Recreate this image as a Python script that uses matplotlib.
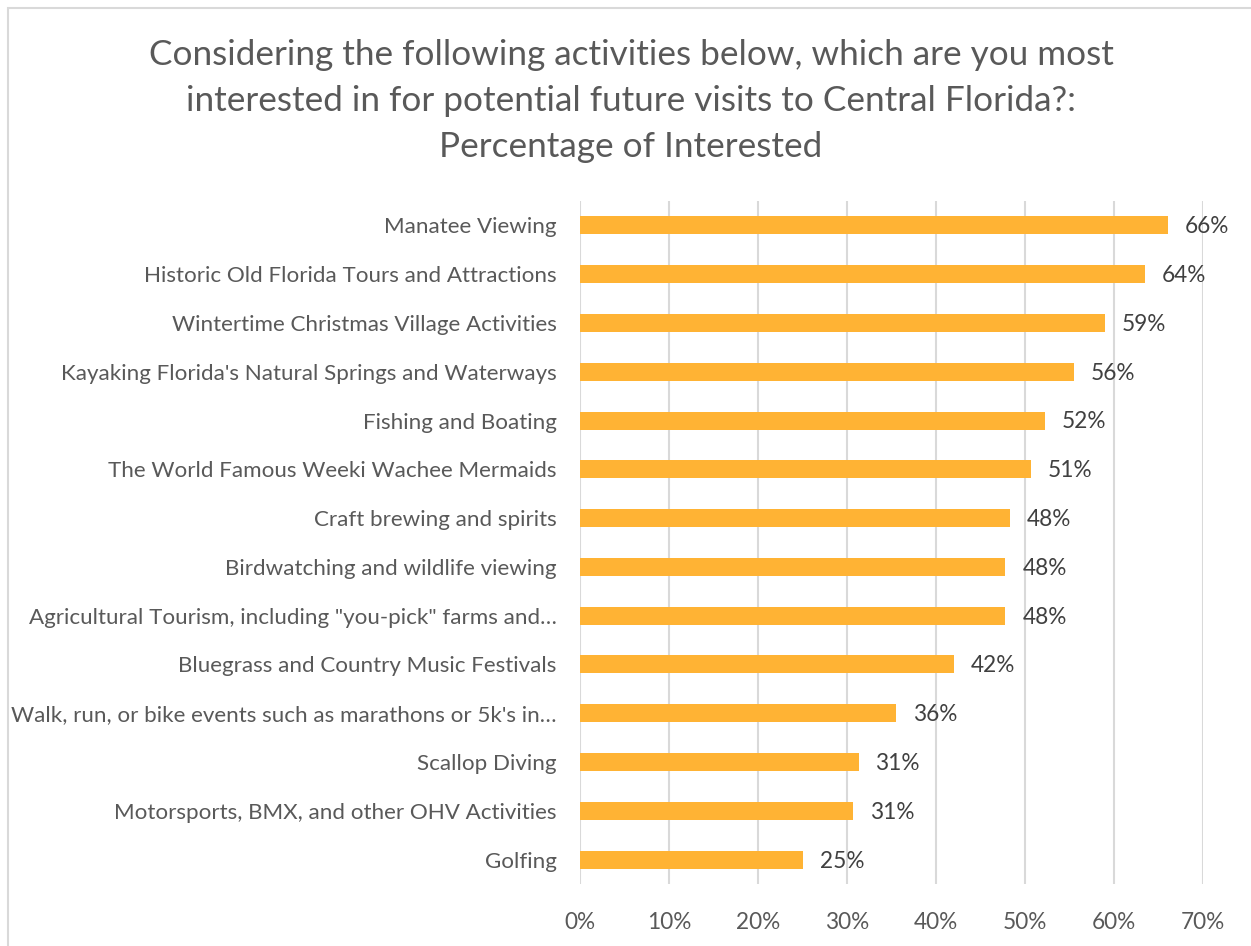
import matplotlib.pyplot as plt
import numpy as np
from matplotlib.patches import Rectangle

#### Data (top to bottom as in the chart)
activities = [
    "Manatee Viewing",
    "Historic Old Florida Tours and Attractions",
    "Wintertime Christmas Village Activities",
    "Kayaking Florida's Natural Springs and Waterways",
    "Fishing and Boating",
    "The World Famous Weeki Wachee Mermaids",
    "Craft brewing and spirits",
    "Birdwatching and wildlife viewing",
    "Agricultural Tourism, including \"you-pick\" farms and\u2026",
    "Bluegrass and Country Music Festivals",
    "Walk, run, or bike events such as marathons or 5k's in\u2026",
    "Scallop Diving",
    "Motorsports, BMX, and other OHV Activities",
    "Golfing",
]
pct_values = [66.1, 63.5, 59.0, 55.5, 52.2, 50.7, 48.3, 47.8, 47.8, 42.0, 35.5, 31.3, 30.7, 25.1]
pct_labels = ["66%", "64%", "59%", "56%", "52%", "51%", "48%", "48%", "48%", "42%", "36%", "31%", "31%", "25%"]
x_ticks = [0, 10, 20, 30, 40, 50, 60, 70]

title = ("Considering the following activities below, which are you most\n"
         "interested in for potential future visits to Central Florida?:\n"
         "Percentage of Interested")

plt.rcParams['font.family'] = ['Lato', 'DejaVu Sans']
txt_col = '#595959'
bar_col = '#FFB334'

fig = plt.figure(figsize=(12.51, 9.46), dpi=100)
ax = fig.add_axes([580/1251, 1 - 884/946, (1203-580)/1251, (884-201)/946])

# outer chart frame
fig.patches.append(Rectangle((8/1251, -0.01), 1.02, 1 - 8/946 + 0.01, transform=fig.transFigure,
                             fill=False, edgecolor='#D9D9D9', linewidth=1.5))

y = np.arange(len(activities))
ax.barh(y, pct_values, height=0.37, color=bar_col, zorder=3)
for yi, v, lab in zip(y, pct_values, pct_labels):
    ax.text(v + 1.9, yi + 0.03, lab, va='center', ha='left', fontsize=16.3, color='#404040')

ax.set_yticks(y)
ax.set_yticklabels(activities, fontsize=16.1, color=txt_col)
ax.set_ylim(len(activities) - 0.5, -0.5)
ax.set_xlim(0, 70)
ax.set_xticks(x_ticks)
ax.set_xticklabels([f"{t}%" for t in x_ticks], fontsize=16.3, color=txt_col)
ax.tick_params(axis='both', length=0)
ax.tick_params(axis='y', pad=17)
ax.tick_params(axis='x', pad=20)
ax.grid(axis='x', color='#D9D9D9', linewidth=1.5, zorder=0)
for s in ax.spines.values():
    s.set_visible(False)

fig.text(631/1251, 1 - 101/946, title, ha='center', va='center', fontsize=25.3,
         color=txt_col, linespacing=1.55)

plt.savefig('out.png', dpi=100)
